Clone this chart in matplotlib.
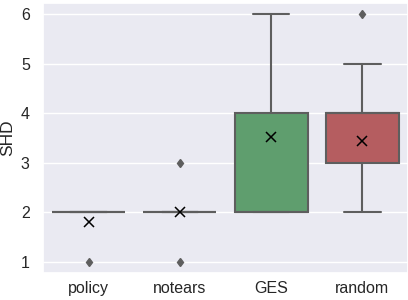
import matplotlib
matplotlib.use("Agg")
import matplotlib.pyplot as plt
import seaborn as sns

sns.set_theme(style="darkgrid")
plt.rcParams['font.family'] = ['Liberation Sans', 'DejaVu Sans']

categories = ["policy", "notears", "GES", "random"]
q1 = [2, 2, 2, 3]
med = [2, 2, 2, 4]
q3 = [2, 2, 4, 4]
whislo = [2, 2, 2, 2]
whishi = [2, 2, 6, 5]
fliers = [[1], [1, 3], [], [6]]
means = [1.8, 2.0, 3.53, 3.43]
colors = ["#5975a4", "#cc8963", "#5f9e6e", "#b55d60"]

stats = []
for i, c in enumerate(categories):
    stats.append(dict(label=c, q1=q1[i], med=med[i], q3=q3[i],
                      whislo=whislo[i], whishi=whishi[i], fliers=fliers[i],
                      mean=means[i]))

fig = plt.figure(figsize=(4.08, 3.0), dpi=100)
ax = fig.add_axes([43/408, 27/300, 1 - 43/408, 270/300])
lc = "#5e5e5e"
bp = ax.bxp(stats, positions=range(4), widths=0.8, patch_artist=True,
            showmeans=True, showfliers=True,
            boxprops=dict(edgecolor=lc, linewidth=1.5),
            whiskerprops=dict(color=lc, linewidth=1.5),
            capprops=dict(color=lc, linewidth=1.5),
            medianprops=dict(color=lc, linewidth=1.5),
            flierprops=dict(marker='d', markerfacecolor=lc, markeredgecolor=lc, markersize=4.5),
            meanprops=dict(marker='x', markeredgecolor='black', markersize=6.5, markeredgewidth=1.1))
for patch, col in zip(bp['boxes'], colors):
    patch.set_facecolor(col)

ax.set_xlim(-0.5, 3.5)
ax.set_ylim(0.78, 6.22)
ax.set_xticks(range(4))
ax.set_xticklabels(categories, fontsize=11.5)
ax.tick_params(axis='x', pad=6, length=0)
ax.set_yticks([1, 2, 3, 4, 5, 6])
ax.tick_params(axis='y', labelsize=11.5)
ax.set_ylabel("SHD", fontsize=12.5)
ax.grid(axis='x', visible=False)

fig.savefig("out.png", dpi=100)
